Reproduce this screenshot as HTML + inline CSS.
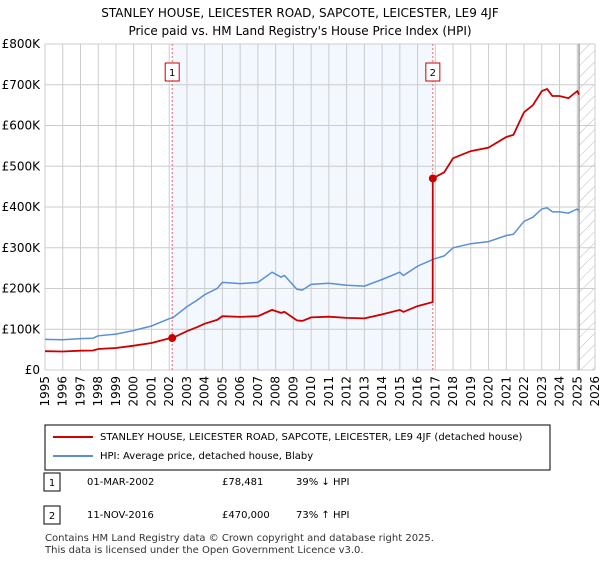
<!DOCTYPE html>
<html><head><meta charset="utf-8"><style>
body{margin:0;background:#fff;font-family:"DejaVu Sans",sans-serif;}
svg text{font-family:"DejaVu Sans",sans-serif;}
</style></head><body>
<svg id="c" width="600" height="560" xmlns="http://www.w3.org/2000/svg">
<text x="300" y="17" text-anchor="middle" font-size="12" fill="#000">STANLEY HOUSE, LEICESTER ROAD, SAPCOTE, LEICESTER, LE9 4JF</text>
<text x="300" y="35" text-anchor="middle" font-size="12" fill="#000">Price paid vs. HM Land Registry's House Price Index (HPI)</text>
<g id="plot"></g>
<rect x="45" y="425" width="505" height="45" fill="#fff" stroke="#000"/>
<line x1="53" y1="437" x2="93" y2="437" stroke="#cc0000" stroke-width="2"/>
<text x="100" y="440" font-size="10">STANLEY HOUSE, LEICESTER ROAD, SAPCOTE, LEICESTER, LE9 4JF (detached house)</text>
<line x1="53" y1="456" x2="93" y2="456" stroke="#5b8fd4" stroke-width="2"/>
<text x="100" y="459" font-size="10">HPI: Average price, detached house, Blaby</text>
<g>
<rect x="44" y="473" width="16" height="18" fill="#fff" stroke="#000"/><text x="52" y="486" font-size="10" text-anchor="middle">1</text>
<text x="87" y="485" font-size="10">01-MAR-2002</text><text x="222" y="485" font-size="10">£78,481</text><text x="296" y="485" font-size="10">39% ↓ HPI</text></g>
<g>
<rect x="44" y="506" width="16" height="18" fill="#fff" stroke="#000"/><text x="52" y="519" font-size="10" text-anchor="middle">2</text>
<text x="87" y="518" font-size="10">11-NOV-2016</text><text x="222" y="518" font-size="10">£470,000</text><text x="296" y="518" font-size="10">73% ↑ HPI</text></g>
<text x="45" y="541" font-size="10" fill="#333">Contains HM Land Registry data © Crown copyright and database right 2025.</text>
<text x="45" y="553" font-size="10" fill="#333">This data is licensed under the Open Government Licence v3.0.</text>
</svg>
<script>
const hpiYears=[1995,1996,1997,1997.7,1998,1999,2000,2001,2002,2002.2,2003,2003.6,2004,2004.7,2005,2006,2007,2007.8,2008.3,2008.5,2009.2,2009.5,2010,2011,2012,2013,2014,2015,2015.2,2016,2016.9,2017.5,2018,2019,2020,2021,2021.4,2022,2022.5,2023,2023.3,2023.6,2024,2024.5,2025,2025.1];
const hpiValues=[75,74,77,78,84,88,97,108,126,128,155,172,185,200,215,212,215,240,228,232,198,196,210,213,208,206,222,240,232,255,272,280,300,310,315,330,333,365,375,395,398,388,388,385,395,390];
const saleDates=[2002.17,2016.86];
const salePrices=[78.481,470];
const yTicks=[0,100,200,300,400,500,600,700,800];
const yLabels=["£0","£100K","£200K","£300K","£400K","£500K","£600K","£700K","£800K"];
const xTicks=[1995,1996,1997,1998,1999,2000,2001,2002,2003,2004,2005,2006,2007,2008,2009,2010,2011,2012,2013,2014,2015,2016,2017,2018,2019,2020,2021,2022,2023,2024,2025,2026];
const X0=45,X1=595,Y0=370,Y1=44;
const xs=y=>X0+(y-1995)/(2026-1995)*(X1-X0);
const ys=v=>Y0-v/800*(Y0-Y1);
const NS="http://www.w3.org/2000/svg";
const g=document.getElementById('plot');
function mk(t,a){const e=document.createElementNS(NS,t);for(const k in a)e.setAttribute(k,a[k]);g.appendChild(e);return e;}
function hpiAt(t){for(let i=1;i<hpiYears.length;i++){if(t<=hpiYears[i]){const f=(t-hpiYears[i-1])/(hpiYears[i]-hpiYears[i-1]);return hpiValues[i-1]+f*(hpiValues[i]-hpiValues[i-1]);}}return hpiValues[hpiValues.length-1];}
const shade=mk('rect',{x:xs(saleDates[0]),y:Y1,width:xs(saleDates[1])-xs(saleDates[0]),height:Y0-Y1,fill:'#eef3fd',opacity:0.7});


const endX=xs(hpiYears[hpiYears.length-1]);
const defs=mk('defs',{});
defs.innerHTML='<pattern id="h" width="8" height="8" patternUnits="userSpaceOnUse" patternTransform="rotate(45)"><line x1="0" y1="0" x2="0" y2="8" stroke="#bbb" stroke-width="1"/></pattern>';
const hatch=mk('rect',{x:endX,y:Y1,width:X1-endX,height:Y0-Y1,fill:'url(#h)'});


yTicks.forEach((v,i)=>{
 const l=mk('line',{x1:X0,x2:X1,y1:ys(v),y2:ys(v),stroke:'#cccccc'});
 
 
 const t=mk('text',{x:X0-5,y:ys(v)+4,'text-anchor':'end','font-size':12});
 t.textContent=yLabels[i];
 
 
});
xTicks.forEach(y=>{
 const l=mk('line',{x1:xs(y),x2:xs(y),y1:Y1,y2:Y0,stroke:'#cccccc'});
 
 
 const t=mk('text',{x:0,y:0,'text-anchor':'end','font-size':12,transform:`translate(${xs(y)+4},${Y0+6}) rotate(-90)`});
 t.textContent=y;
 
 
});
const endLine=mk('line',{x1:endX,x2:endX,y1:Y1,y2:Y0,stroke:'#888','stroke-width':1.2});


saleDates.forEach((d,i)=>{
 const l=mk('line',{x1:xs(d),x2:xs(d),y1:Y1,y2:Y0,stroke:'#ee6666','stroke-dasharray':'2,2'});
 
 
 const b=mk('rect',{x:xs(d)-7,y:63,width:14,height:18,fill:'#fff',stroke:'#cc0000'});
 
 
 const t=mk('text',{x:xs(d),y:76,'text-anchor':'middle','font-size':10});
 t.textContent=String(i+1);
 
 
});
const hp=hpiYears.map((y,i)=>`${xs(y).toFixed(1)},${ys(hpiValues[i]).toFixed(1)}`).join(' ');
const hl=mk('polyline',{points:hp,fill:'none',stroke:'#5b8fd4','stroke-width':1.5});


const r0=salePrices[0]/hpiAt(saleDates[0]),r1=salePrices[1]/hpiAt(saleDates[1]);
const pts=[];
hpiYears.forEach((y,i)=>{if(y<saleDates[1]){pts.push([y,hpiValues[i]*r0]);}});
pts.push([saleDates[1]-0.01,hpiAt(saleDates[1])*r0]);
pts.push([saleDates[1],salePrices[1]]);
hpiYears.forEach((y,i)=>{if(y>saleDates[1])pts.push([y,hpiValues[i]*r1]);});
const rl=mk('polyline',{points:pts.map(p=>`${xs(p[0]).toFixed(1)},${ys(p[1]).toFixed(1)}`).join(' '),fill:'none',stroke:'#cc0000','stroke-width':1.8});


saleDates.forEach((d,i)=>{
 const c=mk('circle',{cx:xs(d),cy:ys(salePrices[i]),r:4,fill:'#cc0000'});
 
 
});
</script>
</body></html>
